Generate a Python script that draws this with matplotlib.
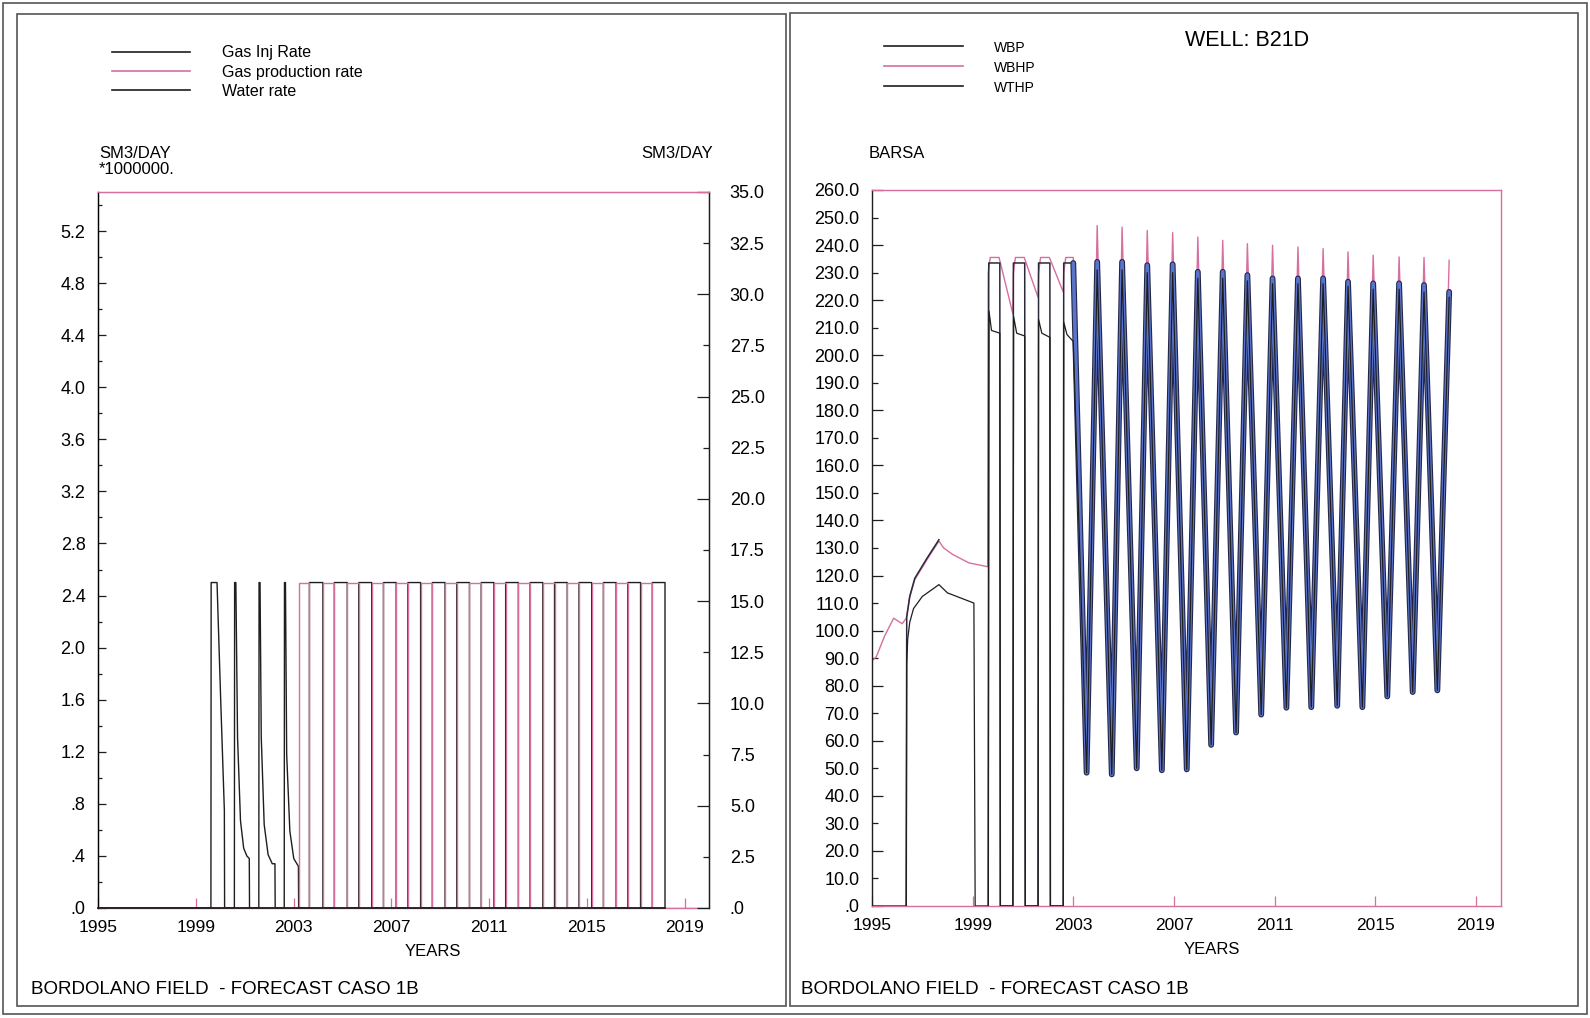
import numpy as np
import matplotlib.pyplot as plt
from matplotlib import patheffects as pe
from matplotlib.lines import Line2D
from matplotlib.patches import Rectangle
from matplotlib.ticker import FixedLocator, FuncFormatter

plt.rcParams['font.family'] = ['Liberation Sans', 'DejaVu Sans']

W, H = 1590, 1018
PINK = '#d66f9e'
BLUE = '#5a74cc'
INK = '#1e1e1e'
FRAME = '#555555'

# ---------------- data: left panel (gas rates x 1e6 SM3/DAY) ----------------
# early production pulses
inj_years = [1995.0, 1999.62, 1999.63, 1999.87, 2000.02, 2000.17, 2000.18,
             2000.58, 2000.59, 2000.64, 2000.71, 2000.83, 2000.96, 2001.09, 2001.19, 2001.2,
             2001.58, 2001.59, 2001.63, 2001.68, 2001.8, 2001.96, 2002.13, 2002.24, 2002.25,
             2002.62, 2002.63, 2002.67, 2002.72, 2002.85, 2003.01, 2003.2, 2003.21]
inj_rates = [0.0, 0.0, 2.5, 2.5, 1.6, 0.75, 0.0,
             0.0, 2.5, 2.5, 1.31, 0.67, 0.46, 0.40, 0.38, 0.0,
             0.0, 2.5, 2.5, 1.31, 0.64, 0.41, 0.34, 0.34, 0.0,
             0.0, 2.5, 2.5, 1.18, 0.59, 0.38, 0.32, 0.0]
# storage cycles: switch dates, production (pink) first, injection (black) next
cycle_edges = [2003.21, 2003.65, 2004.2, 2004.67, 2005.2, 2005.67, 2006.2, 2006.68,
               2007.2, 2007.68, 2008.2, 2008.68, 2009.2, 2009.68, 2010.2, 2010.68,
               2011.2, 2011.68, 2012.2, 2012.68, 2013.2, 2013.68, 2014.2, 2014.68,
               2015.2, 2015.68, 2016.2, 2016.68, 2017.2, 2017.68, 2018.2]
cycle_rate = 2.5
water_years = [1995.0, 2018.2]
water_rates = [0.0, 0.0]

left_yticks = [0.0, 0.4, 0.8, 1.2, 1.6, 2.0, 2.4, 2.8, 3.2, 3.6, 4.0, 4.4, 4.8, 5.2]
right_yticks = [0.0, 2.5, 5.0, 7.5, 10.0, 12.5, 15.0, 17.5, 20.0, 22.5, 25.0, 27.5, 30.0, 32.5, 35.0]
year_ticks = [1995, 1999, 2003, 2007, 2011, 2015, 2019]

# ---------------- data: right panel (pressures, BARSA) ----------------
bhp_years = [1995.0, 1995.17, 1995.5, 1995.86, 1996.2, 1996.36, 1996.5, 1996.7, 1997.2,
             1997.66, 1997.85, 1998.2, 1998.85, 1999.6,
             1999.62, 1999.7, 2000.05, 2000.6, 2000.62, 2000.7, 2001.05, 2001.6,
             2001.62, 2001.7, 2002.05, 2002.6, 2002.62, 2002.7, 2003.0]
bhp_vals = [89.0, 90.5, 98.0, 104.5, 102.5, 104.5, 112.0, 118.5, 126.0,
            132.5, 130.0, 127.7, 124.6, 123.2,
            230.0, 235.5, 235.5, 215.0, 230.0, 235.5, 235.5, 221.0,
            230.0, 235.5, 235.5, 223.0, 230.0, 235.5, 235.5]

bp_years = [1996.36, 1996.38, 1996.5, 1996.7, 1997.2, 1997.66, np.nan,
            1999.62, 1999.64, 2000.08, 2000.1, 2000.6, 2000.62, 2001.07, 2001.09,
            2001.6, 2001.62, 2002.07, 2002.09, 2002.6, 2002.62, 2003.0]
bp_vals = [0.0, 104.8, 112.5, 119.0, 126.5, 133.0, np.nan,
           0.0, 233.5, 233.5, 0.0, 0.0, 233.5, 233.5, 0.0,
           0.0, 233.5, 233.5, 0.0, 0.0, 233.5, 233.5]

thp_years = [1995.0, 1996.36, 1996.38, 1996.42, 1996.5, 1996.65, 1997.0, 1997.66, 1998.0, 1999.05, 1999.1,
             1999.62, 1999.65, 1999.75, 2000.08, 2000.1,
             2000.6, 2000.63, 2000.75, 2001.07, 2001.09,
             2001.6, 2001.62, 2001.75, 2002.07, 2002.09,
             2002.6, 2002.62, 2002.75, 2003.0]
thp_vals = [0.0, 0.0, 88.0, 97.0, 103.0, 108.0, 112.4, 116.7, 113.7, 110.0, 0.0,
            0.0, 216.0, 209.0, 208.0, 0.0,
            0.0, 214.0, 208.0, 207.0, 0.0,
            0.0, 213.0, 208.0, 206.5, 0.0,
            0.0, 212.0, 207.5, 205.0]

# annual storage cycles after 2003
trough_years = [2003.53, 2004.53, 2005.52, 2006.52, 2007.51, 2008.48, 2009.47, 2010.47,
                2011.47, 2012.46, 2013.49, 2014.49, 2015.48, 2016.49, 2017.47]
trough_vals = [48.4, 47.8, 50.0, 49.3, 49.6, 58.5, 63.0, 69.5, 72.0, 72.2, 72.7, 72.2, 76.1, 77.7, 78.3]
peak_years = [2003.95, 2004.94, 2005.94, 2006.95, 2007.95, 2008.94, 2009.92, 2010.92,
              2011.93, 2012.93, 2013.92, 2014.92, 2015.95, 2016.94, 2017.94]
bhp_peaks = [247.1, 246.5, 245.3, 244.5, 242.9, 241.7, 240.5, 239.9, 239.3, 238.7, 237.5, 236.3, 235.7, 235.5, 234.5]
bp_peaks = [233.9, 233.9, 232.7, 233.0, 230.3, 230.3, 229.1, 227.9, 227.9, 227.9, 226.7, 226.1, 226.1, 225.5, 223.0]
thp_peaks = [231.0, 231.0, 230.0, 230.0, 228.0, 228.0, 227.0, 226.0, 226.0, 226.0, 225.0, 224.0, 224.0, 223.0, 221.0]

pressure_ticks = list(range(0, 261, 10))


def px(x, y):
    return x / W, 1 - y / H


def rect(x0, y0, x1, y1):
    return [x0 / W, 1 - y1 / H, (x1 - x0) / W, (y1 - y0) / H]


def fmt(v, _pos=None):
    s = f'{v:.1f}'
    return s[1:] if s.startswith('0') else s


def square_wave(edges, parity, level):
    xs, ys = [edges[0]], [0.0]
    for i in range(len(edges) - 1):
        v = level if i % 2 == parity else 0.0
        xs += [edges[i], edges[i + 1]]
        ys += [v, v]
    xs.append(edges[-1])
    ys.append(0.0)
    return xs, ys


def cycles(troughs_x, troughs_y, peaks_x, peaks_y):
    xs, ys = [], []
    for tx, ty, pkx, pky in zip(troughs_x, troughs_y, peaks_x, peaks_y):
        xs += [tx, pkx]
        ys += [ty, pky]
    return xs, ys


def style_axes(ax):
    ax.set_xlim(1995, 2020)
    ax.xaxis.set_major_locator(FixedLocator(year_ticks))
    ax.xaxis.set_major_formatter(FuncFormatter(lambda v, p: f'{int(round(v))}'))
    ax.tick_params(axis='x', direction='in', length=7, width=0.9, color=PINK,
                   labelsize=12.5, pad=9)
    ax.spines['top'].set_color(PINK)
    ax.spines['bottom'].set_color(PINK)
    ax.spines['left'].set_color(INK)
    for s in ax.spines.values():
        s.set_linewidth(1.0)


fig = plt.figure(figsize=(W / 100, H / 100), dpi=100)

# page frames
fig.add_artist(Rectangle(px(3, 1014), 1584 / W, 1011 / H, transform=fig.transFigure,
                         fill=False, ec=FRAME, lw=1.2))
fig.add_artist(Rectangle(px(17, 1006), 769 / W, 992 / H, transform=fig.transFigure,
                         fill=False, ec=FRAME, lw=1.2))
fig.add_artist(Rectangle(px(790, 1006), 788 / W, 993 / H, transform=fig.transFigure,
                         fill=False, ec=FRAME, lw=1.2))

# ---------------- left panel ----------------
ax1 = fig.add_axes(rect(98, 192, 709, 908))
style_axes(ax1)
ax1.spines['right'].set_color(INK)
ax1.set_ylim(0, 5.5)
ax1.yaxis.set_major_locator(FixedLocator(left_yticks))
ax1.yaxis.set_minor_locator(FixedLocator([v + 0.2 for v in left_yticks]))
ax1.yaxis.set_major_formatter(FuncFormatter(fmt))
ax1.tick_params(axis='y', which='major', direction='in', length=6, width=0.9, color=INK,
                labelsize=13, pad=9, right=False)
ax1.tick_params(axis='y', which='minor', direction='in', length=3, width=0.9, color=INK, right=False)

gi_x, gi_y = square_wave(cycle_edges, 1, cycle_rate)
ax1.plot(inj_years + gi_x, inj_rates + gi_y, color=INK, lw=1.0, zorder=3)
gp_x, gp_y = square_wave(cycle_edges, 0, cycle_rate)
ax1.plot([1995.0] + gp_x + [2020.0], [0.0] + gp_y + [0.0], color=PINK, lw=1.0, zorder=4)

ax1b = ax1.twinx()
ax1b.set_ylim(0, 35)
ax1b.spines['right'].set_color(INK)
ax1b.spines['top'].set_color(PINK)
ax1b.spines['bottom'].set_visible(False)
ax1b.yaxis.set_major_locator(FixedLocator(right_yticks[::2]))
ax1b.yaxis.set_minor_locator(FixedLocator(right_yticks[1::2]))
ax1b.yaxis.set_major_formatter(FuncFormatter(fmt))
ax1b.yaxis.set_minor_formatter(FuncFormatter(fmt))
ax1b.tick_params(axis='y', which='major', direction='in', length=9, width=0.9, color=INK,
                 labelsize=13, pad=15, left=False, right=True, labelright=True)
ax1b.tick_params(axis='y', which='minor', direction='in', length=4, width=0.9, color=INK,
                 labelsize=13, pad=15, left=False, right=True, labelright=True)
ax1b.plot(water_years, water_rates, color=INK, lw=1.3, zorder=5, clip_on=False)

fig.text(*px(99, 154), 'SM3/DAY', fontsize=12, va='center', ha='left')
fig.text(*px(99, 170), '*1000000.', fontsize=12, va='center', ha='left')
fig.text(*px(641, 154), 'SM3/DAY', fontsize=12, va='center', ha='left')
fig.text(*px(433, 951), 'YEARS', fontsize=12, va='center', ha='center')
fig.text(*px(31, 990), 'BORDOLANO FIELD  - FORECAST CASO 1B', fontsize=13.5, va='center', ha='left')

for y, label, color in [(52, 'Gas Inj Rate', INK), (71, 'Gas production rate', PINK), (90, 'Water rate', INK)]:
    fig.add_artist(Line2D([112 / W, 190 / W], [1 - y / H, 1 - y / H], color=color, lw=1.2))
    fig.text(*px(222, y + 1), label, fontsize=11.5, va='center', ha='left')

# ---------------- right panel ----------------
ax2 = fig.add_axes(rect(872, 190, 1501, 906))
style_axes(ax2)
ax2.spines['right'].set_color(PINK)
ax2.set_ylim(0, 260)
ax2.yaxis.set_major_locator(FixedLocator(pressure_ticks[::2]))
ax2.yaxis.set_minor_locator(FixedLocator(pressure_ticks[1::2]))
ax2.yaxis.set_major_formatter(FuncFormatter(fmt))
ax2.yaxis.set_minor_formatter(FuncFormatter(fmt))
ax2.tick_params(axis='y', which='major', direction='in', length=8, width=0.9, color=INK,
                labelsize=13, pad=9, right=False)
ax2.tick_params(axis='y', which='minor', direction='in', length=4, width=0.9, color=INK,
                labelsize=13, pad=9, right=False)

cx, cy = cycles(trough_years, trough_vals, peak_years, bhp_peaks)
ax2.plot(bhp_years + cx, bhp_vals + cy, color=PINK, lw=1.0, zorder=2)

ax2.plot(bp_years, bp_vals, color='#2a2a3a', lw=1.1, zorder=3)
cx, cy = cycles(trough_years, trough_vals, peak_years, bp_peaks)
ax2.plot([bp_years[-1]] + cx, [bp_vals[-1]] + cy, color=BLUE, lw=2.6, zorder=3,
         solid_joinstyle='round', solid_capstyle='round',
         path_effects=[pe.Stroke(linewidth=4.2, foreground='#23264a'), pe.Normal()])

cx, cy = cycles(trough_years, trough_vals, peak_years, thp_peaks)
ax2.plot(thp_years + cx, thp_vals + cy, color=INK, lw=0.9, zorder=4)

fig.text(*px(869, 154), 'BARSA', fontsize=12, va='center', ha='left')
fig.text(*px(1212, 949), 'YEARS', fontsize=12, va='center', ha='center')
fig.text(*px(801, 990), 'BORDOLANO FIELD  - FORECAST CASO 1B', fontsize=13.5, va='center', ha='left')
fig.text(*px(1247, 41), 'WELL: B21D', fontsize=15.5, va='center', ha='center')

for y, label, color in [(46, 'WBP', INK), (66, 'WBHP', PINK), (86, 'WTHP', INK)]:
    fig.add_artist(Line2D([884 / W, 963 / W], [1 - y / H, 1 - y / H], color=color, lw=1.2))
    fig.text(*px(994, y + 2), label, fontsize=10, va='center', ha='left')

fig.savefig('out.png', dpi=100)
